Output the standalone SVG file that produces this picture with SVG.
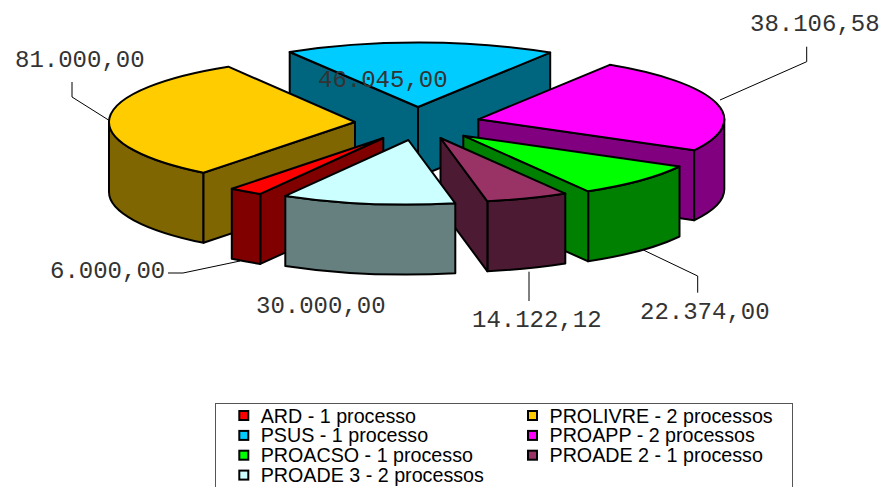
<svg xmlns="http://www.w3.org/2000/svg" width="884" height="487" viewBox="0 0 884 487">
  <style>
    .f{stroke:#000;stroke-width:2;stroke-linejoin:round}
    .lbl{font-family:"Liberation Mono","Courier New",monospace;font-size:24px;fill:#333}
    .leg{font-family:"Liberation Sans",Arial,sans-serif;font-size:19.7px;fill:#000}
    .ld{fill:none;stroke:#000;stroke-width:1}
    .mk{stroke:#000;stroke-width:2}
    .ct{fill:#00CCFF}.cs{fill:#006680}
    .yt{fill:#FFCC00}.ys{fill:#806600}
    .mt{fill:#FF00FF}.ms{fill:#800080}
    .rt{fill:#FF0000}.rs{fill:#800000}
    .gt{fill:#00FF00}.gs{fill:#008000}
    .pt{fill:#993366}.ps{fill:#4D1A33}
    .lt{fill:#CCFFFF}.ls{fill:#668080}
  </style>
  <rect width="884" height="487" fill="#fff"/>

  <!-- PSUS (back slice) -->
  <g id="psus">
    <path class="f cs" d="M289.7,52 L418,107 L418,177 L289.7,122 Z"/>
    <path class="f cs" d="M418,107 L550.2,52.6 L550.2,122.6 L418,177 Z"/>
    <path class="f ct" d="M418,107 L550.2,52.6 A246,64.5 0 0 0 289.7,52 Z"/>
  </g>

  <!-- PROLIVRE -->
  <g id="prolivre">
    <path class="f ys" d="M109,122 L109,192 A246,64.5 0 0 0 203.5,242.8 L203.5,172.8 A246,64.5 0 0 1 109,122 Z"/>
    <path class="f ys" d="M203.5,172.8 L355,122 L355,192 L203.5,242.8 Z"/>
    <path class="f yt" d="M355,122 L228.3,66.7 A246,64.5 0 0 0 203.5,172.8 Z"/>
  </g>

  <!-- PROAPP -->
  <g id="proapp">
    <path class="f ms" d="M724.3,119.3 L724.3,189.3 A246,64.5 0 0 1 694.1,220.3 L694.1,150.3 A246,64.5 0 0 0 724.3,119.3 Z"/>
    <path class="f ms" d="M478.3,119.3 L694.1,150.3 L694.1,220.3 L478.3,189.3 Z"/>
    <path class="f mt" d="M478.3,119.3 L609.8,64.8 A246,64.5 0 0 1 694.1,150.3 Z"/>
  </g>

  <!-- ARD -->
  <g id="ard">
    <path class="f rs" d="M383.3,138 L260.3,193.9 L260.3,263.9 L383.3,208 Z"/>
    <path class="f rs" d="M260.3,193.9 L260.3,263.9 A246,64.5 0 0 1 231.8,258.8 L231.8,188.8 A246,64.5 0 0 0 260.3,193.9 Z"/>
    <path class="f rt" d="M383.3,138 L260.3,193.9 A246,64.5 0 0 1 231.8,188.8 Z"/>
  </g>

  <!-- PROACSO -->
  <g id="proacso">
    <path class="f gs" d="M679.5,166.5 L679.5,236.5 A246,64.5 0 0 1 588.2,261.3 L588.2,191.3 A246,64.5 0 0 0 679.5,166.5 Z"/>
    <path class="f gs" d="M463.3,135.7 L588.2,191.3 L588.2,261.3 L463.3,205.7 Z"/>
    <path class="f gt" d="M463.3,135.7 L679.5,166.5 A246,64.5 0 0 1 588.2,191.3 Z"/>
  </g>

  <!-- PROADE 2 -->
  <g id="proade2">
    <path class="f ps" d="M565.3,193.6 L565.3,263.6 A246,64.5 0 0 1 487.4,271.3 L487.4,201.3 A246,64.5 0 0 0 565.3,193.6 Z"/>
    <path class="f ps" d="M440.5,138 L487.4,201.3 L487.4,271.3 L440.5,208 Z"/>
    <path class="f pt" d="M440.5,138 L565.3,193.6 A246,64.5 0 0 1 487.4,201.3 Z"/>
  </g>

  <!-- PROADE 3 (front slice) -->
  <g id="proade3">
    <path class="f ls" d="M455.3,203.3 L455.3,273.3 A246,64.5 0 0 1 285.3,265.9 L285.3,195.9 A246,64.5 0 0 0 455.3,203.3 Z"/>
    <path class="f lt" d="M408.3,140 L455.3,203.3 A246,64.5 0 0 1 285.3,195.9 Z"/>
  </g>

  <!-- leader lines -->
  <g id="connectors">
    <polyline class="ld" points="72,82 72,97 108.5,120"/>
    <polyline class="ld" points="168,273 183,273 240,261"/>
    <polyline class="ld" points="806.7,46.7 806.7,61.7 720,100"/>
    <polyline class="ld" points="643.3,250 697.7,276 697.7,292.7"/>
    <polyline class="ld" points="529,271.7 529,301"/>
  </g>

  <!-- value labels -->
  <g id="labels">
    <text class="lbl" x="15" y="67">81.000,00</text>
    <text class="lbl" x="318" y="87">46.045,00</text>
    <text class="lbl" x="750" y="31">38.106,58</text>
    <text class="lbl" x="50" y="278">6.000,00</text>
    <text class="lbl" x="256" y="313">30.000,00</text>
    <text class="lbl" x="472" y="327">14.122,12</text>
    <text class="lbl" x="640" y="319">22.374,00</text>
  </g>

  <!-- legend -->
  <g id="legend">
    <rect x="215.5" y="403.5" width="577" height="95" fill="#fff" stroke="#555" stroke-width="1"/>
    <rect class="mk rt" x="239.3" y="411" width="9" height="9"/>
    <text class="leg" x="260.7" y="422.5">ARD - 1 processo</text>
    <rect class="mk ct" x="239.3" y="430.9" width="9" height="9"/>
    <text class="leg" x="260.7" y="442.3">PSUS - 1 processo</text>
    <rect class="mk gt" x="239.3" y="450.7" width="9" height="9"/>
    <text class="leg" x="260.7" y="462.2">PROACSO - 1 processo</text>
    <rect class="mk lt" x="239.3" y="470.6" width="9" height="9"/>
    <text class="leg" x="260.7" y="482">PROADE 3 - 2 processos</text>
    <rect class="mk yt" x="528" y="411" width="9" height="9"/>
    <text class="leg" x="549.5" y="422.5">PROLIVRE - 2 processos</text>
    <rect class="mk mt" x="528" y="430.9" width="9" height="9"/>
    <text class="leg" x="549.5" y="442.3">PROAPP - 2 processos</text>
    <rect class="mk pt" x="528" y="450.7" width="9" height="9"/>
    <text class="leg" x="549.5" y="462.2">PROADE 2 - 1 processo</text>
  </g>
</svg>
